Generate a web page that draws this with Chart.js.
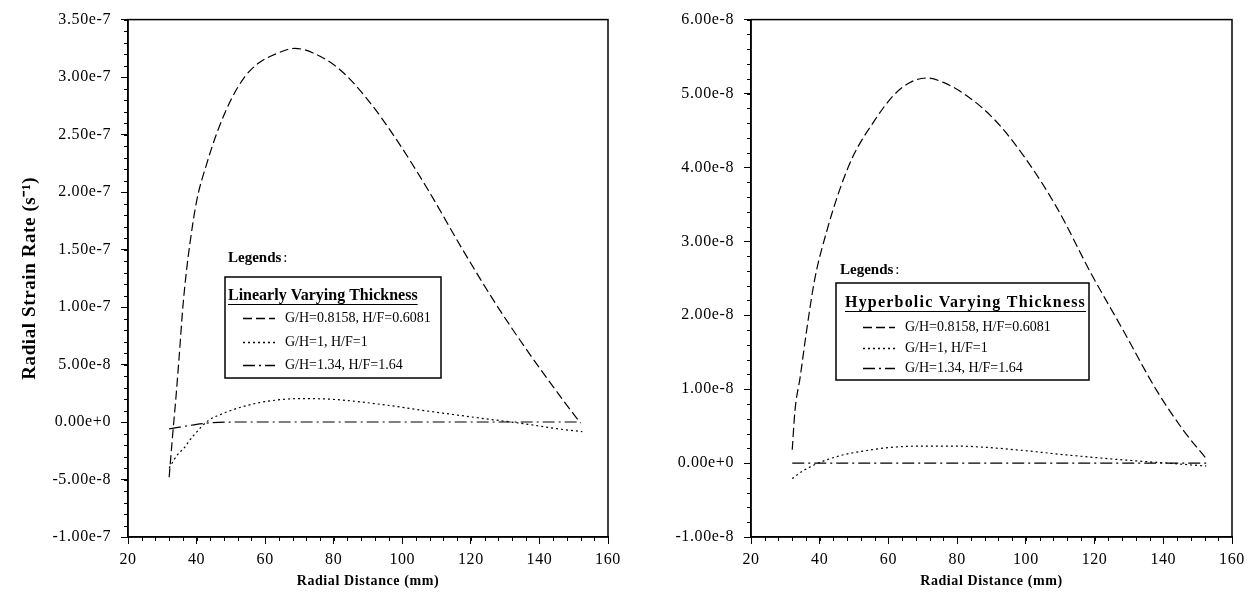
<!DOCTYPE html>
<html><head><meta charset="utf-8">
<script src="https://cdn.jsdelivr.net/npm/chart.js@4.4.0/dist/chart.umd.min.js"></script>
<style>
html,body{margin:0;padding:0;background:#fff;}
#wrap{position:relative;width:1253px;height:602px;overflow:hidden;}
.box{position:absolute;top:0;height:602px;}
canvas{display:block;}
</style></head><body>
<div id="wrap">
<div class="box" style="left:0;width:626px"><canvas id="c1" width="626" height="602"></canvas></div>
<div class="box" style="left:626px;width:627px"><canvas id="c2" width="627" height="602"></canvas></div>
</div>
<script>
// ---------- data ----------
const seriesLabels = ['G/H=0.8158, H/F=0.6081', 'G/H=1, H/F=1', 'G/H=1.34, H/F=1.64'];
const xTicks = [20, 40, 60, 80, 100, 120, 140, 160];
const yTicksLeft = [-1.0e-7, -5.0e-8, 0, 5.0e-8, 1.0e-7, 1.5e-7, 2.0e-7, 2.5e-7, 3.0e-7, 3.5e-7];
const yTicksRight = [-1.0e-8, 0, 1.0e-8, 2.0e-8, 3.0e-8, 4.0e-8, 5.0e-8, 6.0e-8];

// Linearly varying thickness (left)
const linDashX = [32, 33, 34, 35, 36, 37, 38, 40, 43, 46, 50, 54, 58, 63, 68.6, 74, 82, 90, 98, 107.5, 117, 127, 136.7, 146.4, 152];
const linDashY = [-4.8e-8, -1.2e-8, 2.2e-8, 6.0e-8, 1.0e-7, 1.3e-7, 1.54e-7, 1.92e-7, 2.25e-7, 2.52e-7, 2.80e-7, 3.00e-7, 3.12e-7, 3.20e-7, 3.25e-7, 3.21e-7, 3.06e-7, 2.80e-7, 2.47e-7, 2.02e-7, 1.53e-7, 1.04e-7, 6.1e-8, 2.1e-8, -1.0e-9];
const linDotX = [32, 34.2, 36.5, 38.1, 39.4, 43.3, 48.2, 54, 60.8, 70.5, 80.3, 93.9, 107.5, 122, 136.7, 146.4, 152.5];
const linDotY = [-4.0e-8, -2.94e-8, -2.2e-8, -1.55e-8, -1.07e-8, 1.0e-9, 8.0e-9, 1.38e-8, 1.81e-8, 2.04e-8, 1.96e-8, 1.53e-8, 9.5e-9, 3.7e-9, -2.0e-9, -6.3e-9, -8.4e-9];
const linDDX = [32, 36, 40, 44, 50, 60, 80, 100, 120, 140, 152];
const linDDY = [-6.0e-9, -4.0e-9, -2.0e-9, -7.0e-10, 0, 0, 0, 0, 0, 0, 0];

// Hyperbolic varying thickness (right)
const hypDashX = [32, 32.8, 34.3, 36.3, 38.6, 42, 45.9, 49.8, 55.6, 61.4, 66.3, 71.2, 76, 82.8, 90.6, 99.3, 109.1, 118.7, 128.4, 138.1, 145.9, 152.5];
const hypDashY = [1.8e-9, 7.1e-9, 1.16e-8, 1.83e-8, 2.50e-8, 3.13e-8, 3.71e-8, 4.16e-8, 4.61e-8, 4.97e-8, 5.15e-8, 5.21e-8, 5.15e-8, 4.97e-8, 4.66e-8, 4.16e-8, 3.45e-8, 2.59e-8, 1.79e-8, 9.8e-9, 4.4e-9, 6.0e-10];
const hypDotX = [32, 35.3, 39.6, 45.9, 53.6, 61.4, 70.2, 79.9, 87.7, 99.3, 111.9, 126.5, 141, 152.5];
const hypDotY = [-2.1e-9, -1.0e-9, 0, 1.0e-9, 1.7e-9, 2.15e-9, 2.3e-9, 2.3e-9, 2.15e-9, 1.7e-9, 1.1e-9, 5.0e-10, 0, -4.0e-10];
const hypDDX = [32, 40, 60, 80, 100, 120, 140, 152.5];
const hypDDY = [0, 0, 0, 0, 0, 0, 0, 0];

// ---------- styles ----------
const dashes = [[9, 4], [2, 3], [12, 4, 2, 4]];
const FONT = "'Liberation Serif', 'Times New Roman', serif";

const framePlugin = {
  id: 'frame',
  beforeDraw(chart) { try { chart.ctx.letterSpacing = '0.6px'; } catch (e) {} },
  beforeDatasetsDraw(chart) { try { chart.ctx.letterSpacing = '0px'; } catch (e) {} },
  afterDraw(chart, args, opts) {
    const {ctx, chartArea: a, scales: {x, y}} = chart;
    ctx.save();
    ctx.strokeStyle = '#000';
    ctx.lineWidth = 1.5;
    ctx.strokeRect(a.left, a.top, a.right - a.left, a.bottom - a.top);
    ctx.lineWidth = 1;
    for (let v = x.min; v <= x.max + 1e-9; v += opts.xMinor) {
      const px = Math.round(x.getPixelForValue(v)) + 0.5;
      ctx.beginPath(); ctx.moveTo(px, a.bottom); ctx.lineTo(px, a.bottom + 4); ctx.stroke();
    }
    const n = Math.round((y.max - y.min) / opts.yMinor);
    for (let i = 0; i <= n; i++) {
      const v = y.min + i * opts.yMinor;
      const py = Math.round(y.getPixelForValue(v)) + 0.5;
      ctx.beginPath(); ctx.moveTo(a.left - 4, py); ctx.lineTo(a.left, py); ctx.stroke();
    }
    ctx.restore();
  }
};

const legendPlugin = {
  id: 'boxLegend',
  afterDraw(chart, args, o) {
    const ctx = chart.ctx;
    ctx.save();
    ctx.fillStyle = '#000';
    ctx.textBaseline = 'middle';
    ctx.textAlign = 'left';
    ctx.font = "bold 15px " + FONT;
    ctx.fillText('Legends', o.lx, o.ly);
    const lw = ctx.measureText('Legends').width;
    ctx.font = "15px " + FONT;
    ctx.fillText(':', o.lx + lw + 2, o.ly);
    ctx.strokeStyle = '#000';
    ctx.lineWidth = 1.5;
    ctx.strokeRect(o.bx, o.by, o.bw, o.bh);
    ctx.font = "bold 16px " + FONT;
    try { ctx.letterSpacing = o.titleSpacing; } catch (e) {}
    ctx.fillText(o.title, o.tx, o.ty);
    const tw = ctx.measureText(o.title).width;
    try { ctx.letterSpacing = '0px'; } catch (e) {}
    ctx.lineWidth = 1;
    ctx.beginPath(); ctx.moveTo(o.tx, o.ty + 8.5); ctx.lineTo(o.tx + tw, o.ty + 8.5); ctx.stroke();
    ctx.font = "14px " + FONT;
    chart.data.datasets.forEach((ds, i) => {
      const yy = o.ey[i];
      ctx.setLineDash(ds.borderDash);
      ctx.lineWidth = 1.3;
      ctx.beginPath(); ctx.moveTo(o.sx0, Math.round(yy) + 0.5); ctx.lineTo(o.sx1, Math.round(yy) + 0.5); ctx.stroke();
      ctx.setLineDash([]);
      ctx.fillText(ds.label, o.textX, yy);
    });
    ctx.restore();
  }
};

function fmt(v) { return Math.abs(v) < 1e-15 ? '0.00e+0' : Number(v).toExponential(2); }

function makeChart(id, series, yTicks, yMin, yMax, yMinor, yTitle, yWidth, padRight, legendOpts) {
  return new Chart(document.getElementById(id), {
    type: 'line',
    data: {
      datasets: series.map((s, i) => ({
        label: seriesLabels[i],
        data: s[0].map((xv, j) => ({x: xv, y: s[1][j]})),
        borderColor: '#000',
        borderWidth: 1.2,
        borderDash: dashes[i],
        pointRadius: 0,
        fill: false,
        cubicInterpolationMode: 'monotone'
      }))
    },
    options: {
      responsive: false,
      animation: false,
      devicePixelRatio: 1,
      layout: {padding: {top: 16, right: padRight, left: 0, bottom: 0}},
      plugins: {legend: {display: false}, tooltip: {enabled: false}, frame: {xMinor: 4, yMinor: yMinor}, boxLegend: legendOpts},
      scales: {
        x: {
          type: 'linear', min: 20, max: 160,
          afterBuildTicks: (sc) => { sc.ticks = xTicks.map(v => ({value: v})); },
          afterFit: (sc) => { sc.height = 65; },
          grid: {drawOnChartArea: false, drawTicks: true, tickLength: 7, color: '#000', tickWidth: 1},
          border: {display: true, color: '#000', width: 1.5},
          ticks: {color: '#000', font: {family: FONT, size: 16}, padding: 6, maxRotation: 0, autoSkip: false},
          title: {display: true, text: 'Radial Distance (mm)', color: '#000', font: {family: FONT, size: 14, weight: 'bold'}, padding: {top: 0, bottom: 12}}
        },
        y: {
          type: 'linear', min: yMin, max: yMax,
          afterBuildTicks: (sc) => { sc.ticks = yTicks.map(v => ({value: v})); },
          afterFit: (sc) => { sc.width = yWidth; },
          grid: {drawOnChartArea: false, drawTicks: true, tickLength: 7, color: '#000', tickWidth: 1},
          border: {display: true, color: '#000', width: 1.5},
          ticks: {color: '#000', font: {family: FONT, size: 16}, padding: 10, autoSkip: false, callback: (v) => fmt(v)},
          title: {display: !!yTitle, text: yTitle || '', color: '#000', font: {family: FONT, size: 19, weight: 'bold'}, padding: {top: 19, bottom: 0}}
        }
      }
    },
    plugins: [framePlugin, legendPlugin]
  });
}

makeChart('c1', [[linDashX, linDashY], [linDotX, linDotY], [linDDX, linDDY]], yTicksLeft, -1.0e-7, 3.5e-7, 1e-8,
  'Radial Strain Rate (s\u207B\u00B9)', 128, 18,
  {lx: 228, ly: 258, bx: 225, by: 277, bw: 216, bh: 101, title: 'Linearly Varying Thickness', titleSpacing: '0px', tx: 228, ty: 296,
   ey: [318, 342, 365], sx0: 243, sx1: 275, textX: 285});

makeChart('c2', [[hypDashX, hypDashY], [hypDotX, hypDotY], [hypDDX, hypDDY]], yTicksRight, -1.0e-8, 6.0e-8, 2e-9,
  '', 125, 21,
  {lx: 214, ly: 270, bx: 210, by: 283, bw: 253, bh: 97, title: 'Hyperbolic Varying Thickness', titleSpacing: '1.2px', tx: 219, ty: 303,
   ey: [327, 348, 368], sx0: 237, sx1: 269, textX: 279});
</script>
</body></html>
